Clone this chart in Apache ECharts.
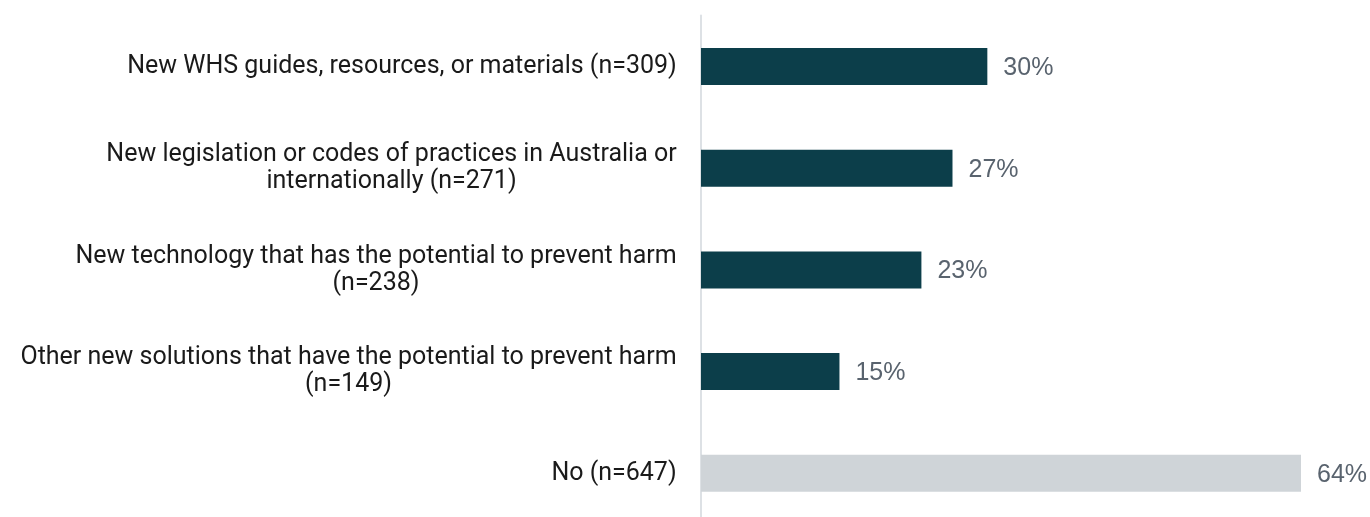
<!DOCTYPE html>
<html><head><meta charset="utf-8">
<script src="https://cdn.jsdelivr.net/npm/echarts@6/dist/echarts.min.js"></script>
<style>html,body{margin:0;padding:0;background:#fff}#c{width:1370px;height:517px}</style>
</head><body><div id="c"></div>
<script>
const categories = [
  'New WHS guides, resources, or materials (n=309)',
  'New legislation or codes of practices in Australia or internationally (n=271)',
  'New technology that has the potential to prevent harm (n=238)',
  'Other new solutions that have the potential to prevent harm (n=149)',
  'No (n=647)'
];
const values = [30.4, 26.7, 23.4, 14.7, 63.7];
const barColors = ['#0c3e4a', '#0c3e4a', '#0c3e4a', '#0c3e4a', '#cfd4d8'];

const LABEL_FONT = 'Roboto';
const LABEL_SIZE = 25;
const WRAP = 670;
const ctx = document.createElement('canvas').getContext('2d');
ctx.font = LABEL_SIZE + 'px ' + LABEL_FONT;
function wrap(t) {
  const words = t.split(' ');
  const lines = [];
  let cur = '';
  words.forEach(wd => {
    const test = cur ? cur + ' ' + wd : wd;
    if (cur && ctx.measureText(test).width > WRAP) { lines.push(cur); cur = wd; }
    else cur = test;
  });
  if (cur) lines.push(cur);
  return lines;
}
const rich = {};
const wrapped = categories.map((c, i) => {
  const lines = wrap(c);
  const maxW = Math.max(...lines.map(l => ctx.measureText(l).width));
  rich['k' + i] = {width: Math.ceil(maxW), align: 'center', fontSize: LABEL_SIZE, fontFamily: LABEL_FONT,
    color: '#1a1a1a', lineHeight: 27};
  return lines;
});

const chart = echarts.init(document.getElementById('c'));
chart.setOption({
  animation: false,
  grid: {left: 701, right: 69, top: 15.6, bottom: -7.2, containLabel: false, outerBoundsMode: 'none'},
  xAxis: {type: 'value', min: 0, max: 63.7, show: false},
  yAxis: {
    type: 'category', inverse: true, data: categories, offset: 1,
    axisLine: {lineStyle: {color: '#dde1e5', width: 2}},
    axisTick: {show: false},
    axisLabel: {
      margin: 23, align: 'right',
      formatter: (v, i) => wrapped[i].map(l => '{k' + i + '|' + l + '}').join('\n'),
      rich: rich
    }
  },
  series: [{
    type: 'bar', barWidth: 37,
    data: values.map((v, i) => ({value: v, itemStyle: {color: barColors[i]}})),
    label: {show: true, position: 'right', distance: 16, offset: [0, 1.5], formatter: p => Math.round(p.value) + '%',
      color: '#59636e', fontSize: 25, fontFamily: 'Liberation Sans'}
  }]
});
</script></body></html>
